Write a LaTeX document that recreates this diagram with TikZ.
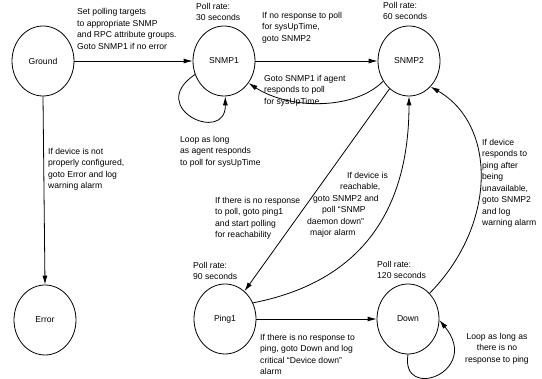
\documentclass[tikz,border=0pt]{standalone}
\usepackage{fontspec}
\setmainfont{Liberation Sans}
\usetikzlibrary{shapes.geometric,arrows.meta}
\begin{document}
\begin{tikzpicture}[x=1pt,y=-1pt,
  state/.style={ellipse,draw,line width=0.8pt,minimum width=62pt,minimum height=70pt,inner sep=0pt,font=\fontsize{8.6}{11.5}\selectfont},
  lbl/.style={inner sep=0pt,align=left,anchor=north west,font=\fontsize{8.6}{11.5}\selectfont},
  conn/.style={line width=0.8pt,-{Latex[length=9pt,width=5pt]}}]
\useasboundingbox (0,0) rectangle (542,379);
% states
\node[state] (ground) at (43,61) {Ground};
\node[state] (snmp1) at (224,61) {SNMP1};
\node[state] (snmp2) at (409,61) {SNMP2};
\node[state] (error) at (45,320) {Error};
\node[state] (ping1) at (225,319) {Ping1};
\node[state] (dn) at (408,319) {Down};
% labels
\node[lbl] (tA) at (77,8.5) {Set polling targets\\to appropriate SNMP\\and RPC attribute groups.\\Goto SNMP1 if no error};
\node[lbl] (tB) at (196,3) {Poll rate:\\30 seconds};
\node[lbl] (tC) at (262,12) {If no response to poll\\for sysUpTime,\\goto SNMP2};
\node[lbl] (tD) at (383,2) {Poll rate:\\60 seconds};
\node[lbl] (tE) at (264,75) {Goto SNMP1 if agent\\responds to poll\\for sysUpTime};
\node[lbl] (tF) at (180,136) {Loop as long\\as agent responds\\to poll for sysUpTime};
\node[lbl] (tG) at (48,148) {If device is not\\properly configured,\\goto Error and log\\warning alarm};
\node[lbl] (tH) at (215,197) {If there is no response\\to poll, goto ping1\\and start polling\\for reachability};
\node[lbl] (tI) at (307,172) {\hspace*{40pt}If device is\\\hspace*{33pt}reachable,\\\hspace*{6pt}goto SNMP2 and\\\hspace*{15pt}poll “SNMP\\daemon down”\\\hspace*{3pt}major alarm};
\node[lbl] (tJ) at (482,139) {If device\\responds to\\ping after\\being\\unavailable,\\goto SNMP2\\and log\\warning alarm};
\node[lbl] (tK) at (193,262) {Poll rate:\\90 seconds};
\node[lbl] (tL) at (377,261) {Poll rate:\\120 seconds};
\node[lbl] (tM) at (260,334) {If there is no response to\\ping, goto Down and log\\critical “Device down”\\alarm};
\node[lbl,align=center,anchor=north] (tN) at (497,333) {Loop as long as\\there is no\\response to ping};
% connectors
\draw[conn] (ground.east) -- (snmp1.west);
\draw[conn] (snmp1.east) -- (snmp2.west);
\draw[conn] (snmp2.218) .. controls (355,110) and (290,110) .. (snmp1.-42);
\draw[conn] (snmp1.205) .. controls (145,108) and (226,145) .. (snmp1.272);
\draw[conn] (ground.south) -- (error.north);
\draw[conn] (snmp2.235) -- (ping1.55);
\draw[conn] (ping1.30) .. controls (370,280) and (409,200) .. (snmp2.270);
\draw[conn] (dn.50) .. controls (497,225) and (497,125) .. (snmp2.-50);
\draw[conn] (ping1.east) -- (dn.west);
\draw[conn] (dn.-90) .. controls (400,402) and (482,372) .. (dn.-2);
\end{tikzpicture}
\end{document}
